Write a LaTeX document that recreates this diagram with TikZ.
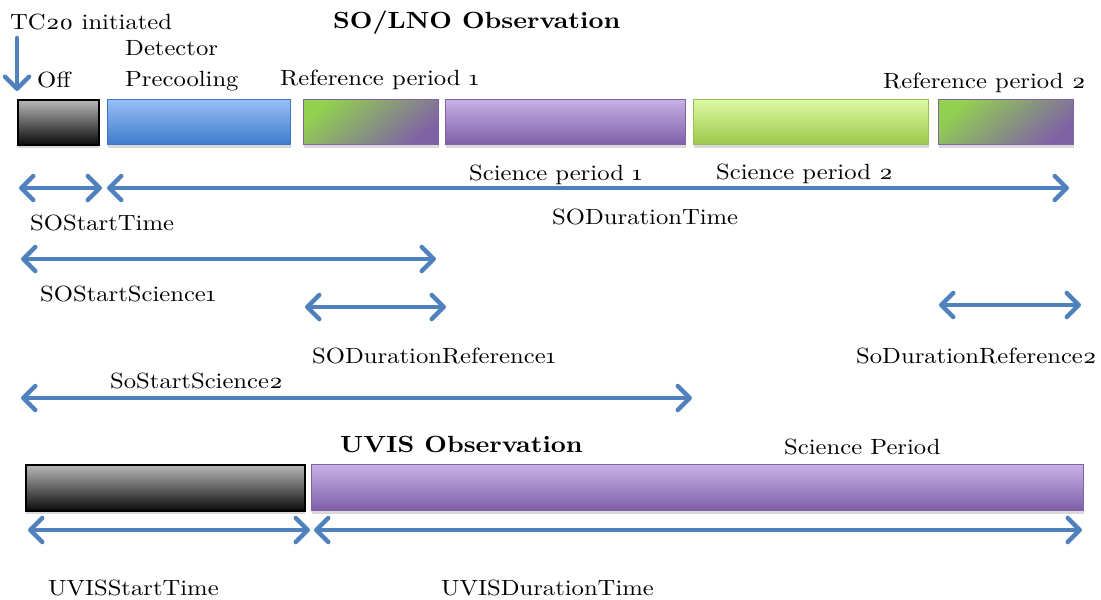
\documentclass[tikz,border=0pt]{standalone}
\usepackage{fontspec}
\setmainfont{lmroman10-regular.otf}[BoldFont=lmroman10-bold.otf, Numbers=OldStyle, FakeStretch=1.12]
\usetikzlibrary{arrows.meta,shadows}

\definecolor{arrowblue}{HTML}{4F81BD}
\definecolor{offtop}{HTML}{B8B8B8}
\definecolor{offbot}{HTML}{0A0A0A}
\definecolor{bluetop}{HTML}{97BFF6}
\definecolor{bluebot}{HTML}{3E7BCA}
\definecolor{blueedge}{HTML}{3C79C4}
\definecolor{purptop}{HTML}{C6B1E7}
\definecolor{purpbot}{HTML}{7E5EA7}
\definecolor{purpedge}{HTML}{8064A2}
\definecolor{greentop}{HTML}{DDFAA3}
\definecolor{greenbot}{HTML}{9CC84B}
\definecolor{greenedge}{HTML}{9BBB59}
\definecolor{refgreen}{HTML}{92D050}
\definecolor{refpurp}{HTML}{7F62A6}

\tikzset{
  txt/.style={inner sep=0pt, anchor=base west, font=\fontsize{22}{26}\selectfont},
  ttl/.style={inner sep=0pt, anchor=base west, font=\fontsize{23.4}{27}\selectfont\bfseries},
  bar/.style={inner sep=0pt, anchor=north west, line width=1.4pt,
    drop shadow={shadow xshift=0pt, shadow yshift=-3pt, opacity=0.15, fill=black}},
  offbar/.style={bar, draw=black, line width=2pt, top color=offtop, bottom color=offbot},
  precool/.style={bar, draw=blueedge, top color=bluetop, bottom color=bluebot},
  sciA/.style={bar, draw=purpedge, top color=purptop, bottom color=purpbot},
  sciB/.style={bar, draw=greenedge, top color=greentop, bottom color=greenbot},
  refbar/.style={bar, draw=purpedge, top color=refgreen, bottom color=refpurp, shading angle=40},
  tip/.tip={Straight Barb[length=12pt, width=24pt, round]},
  dim/.style={draw=arrowblue, line width=4.5pt, line cap=round, tip-tip},
  onearrow/.style={draw=arrowblue, line width=4.5pt, line cap=round, -tip},
}

\begin{document}
\begin{tikzpicture}[x=1pt, y=-1pt]
\useasboundingbox (0,0) rectangle (1101,600);

% ---------------- SO/LNO timeline ----------------
\node[ttl] (sotitle) at (333,28) {SO/LNO Observation};
\node[txt] (tc) at (10,29) {TC20 initiated};
\node[txt] (offl) at (37,87) {Off};
\node[txt] (det) at (125,55) {Detector};
\node[txt] (prec) at (125,86) {Precooling};
\node[txt] (ref1l) at (280,85) {Reference period 1};
\node[txt] (ref2l) at (883,88) {Reference period 2};

\node[offbar, minimum width=81pt, minimum height=45pt] (off) at (17,99) {};
\node[precool, minimum width=183pt, minimum height=45pt] (pre) at (107,99) {};
\node[refbar, minimum width=135pt, minimum height=45pt] (ref1) at (303,99) {};
\node[sciA, minimum width=240pt, minimum height=45pt] (sci1) at (445,99) {};
\node[sciB, minimum width=235pt, minimum height=45pt] (sci2) at (693,99) {};
\node[refbar, minimum width=135pt, minimum height=45pt] (ref2) at (938,99) {};

\node[txt] (sci1l) at (469,180) {Science period 1};
\node[txt] (sci2l) at (716,179) {Science period 2};

% start marker
\coordinate (tcA) at (17,38);
\coordinate (tcB) at (17,91);
\draw[onearrow] (tcA) -- (tcB);

% dimension arrows
\coordinate (a1) at (19,188);  \coordinate (a2) at (102,188);
\coordinate (b1) at (107,188); \coordinate (b2) at (1069,188);
\coordinate (c1) at (21,259);  \coordinate (c2) at (436,259);
\coordinate (d1) at (305,307); \coordinate (d2) at (446,307);
\coordinate (e1) at (939,305); \coordinate (e2) at (1081,305);
\coordinate (f1) at (21,398);  \coordinate (f2) at (692,398);
\draw[dim] (a1) -- (a2);
\draw[dim] (b1) -- (b2);
\draw[dim] (c1) -- (c2);
\draw[dim] (d1) -- (d2);
\draw[dim] (e1) -- (e2);
\draw[dim] (f1) -- (f2);

\node[txt] (sostl) at (30,230) {SOStartTime};
\node[txt] (sodtl) at (552,224) {SODurationTime};
\node[txt] (sos1l) at (40,301) {SOStartScience1};
\node[txt] (sodr1l) at (312,363) {SODurationReference1};
\node[txt] (sodr2l) at (856,363) {SoDurationReference2};
\node[txt] (sos2l) at (110,388) {SoStartScience2};

% ---------------- UVIS timeline ----------------
\node[ttl] (uvtitle) at (340,452) {UVIS Observation};
\node[txt] (uvscil) at (784,454) {Science Period};

\node[offbar, minimum width=279pt, minimum height=46pt] (uvoff) at (25,464) {};
\node[sciA, minimum width=772pt, minimum height=46pt] (uvsci) at (311,464) {};

\coordinate (g1) at (28,530);  \coordinate (g2) at (310,530);
\coordinate (h1) at (314,530); \coordinate (h2) at (1082,530);
\draw[dim] (g1) -- (g2);
\draw[dim] (h1) -- (h2);

\node[txt] (uvstl) at (48,595) {UVISStartTime};
\node[txt] (uvdtl) at (441,595) {UVISDurationTime};
\end{tikzpicture}
\end{document}
